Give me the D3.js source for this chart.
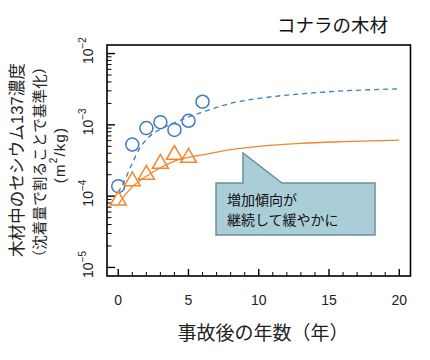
<!DOCTYPE html>
<html><head><meta charset="utf-8">
<script src="https://cdn.jsdelivr.net/npm/d3@7"></script>
<style>body{margin:0;background:#fff}svg{display:block}</style>
</head><body>
<script>
const years = [0, 1, 2, 3, 4, 5, 6];
const woodCircle = [1.38e-4, 5.3e-4, 9.0e-4, 1.09e-3, 8.5e-4, 1.14e-3, 2.11e-3];
const triYears = [0, 1, 2, 3, 4, 5];
const woodTriangle = [9.0e-5, 1.68e-4, 2.07e-4, 2.95e-4, 3.93e-4, 3.58e-4];
const blueFitYears = [0, 0.5, 1, 1.5, 2, 3, 4, 5, 6, 8, 10, 13, 16, 20];
const blueFit = [1.12e-4, 1.74e-4, 2.9e-4, 4.6e-4, 6.2e-4, 8.7e-4, 1.07e-3, 1.29e-3, 1.51e-3, 2.0e-3, 2.35e-3, 2.72e-3, 2.99e-3, 3.2e-3];
const orangeFitYears = [0, 0.5, 1, 2, 3, 4, 5, 6, 8, 10, 13, 16, 20];
const orangeFit = [7.6e-5, 1.05e-4, 1.35e-4, 1.9e-4, 2.5e-4, 3.1e-4, 3.5e-4, 3.8e-4, 4.5e-4, 5.0e-4, 5.5e-4, 5.8e-4, 6.1e-4];
const xTicks = [0, 5, 10, 15, 20];
const yTickExp = [-5, -4, -3, -2];
const title = "コナラの木材";
const xTitle = "事故後の年数（年）";
const yTitle1 = "木材中のセシウム137濃度";
const yTitle2 = "（沈着量で割ることで基準化）";
const calloutLines = ["増加傾向が", "継続して緩やかに"];

const W = 430, H = 360;
const L = 107, R = 410.5, T = 45, B = 276;
const font = "'Liberation Sans', Arial, 'Noto Sans CJK JP', sans-serif";
const blue = "#3b7cc0", orange = "#f5852a";

const svg = d3.select("body").append("svg").attr("width", W).attr("height", H)
  .style("font-family", font);

const x = d3.scaleLinear().domain([-0.8, 20.8]).range([L, R]);
const y = d3.scaleLog().domain([Math.pow(10, -5.12), Math.pow(10, -1.88)]).range([B, T]);

// plot box
svg.append("rect").attr("x", L).attr("y", T).attr("width", R - L).attr("height", B - T)
  .attr("fill", "none").attr("stroke", "#000").attr("stroke-width", 1.6);

// x ticks (inward)
const xMinor = d3.range(0, 21);
svg.append("g").selectAll("line").data(xMinor).join("line")
  .attr("x1", d => x(d)).attr("x2", d => x(d))
  .attr("y1", B).attr("y2", d => d % 5 === 0 ? B - 7 : B - 4)
  .attr("stroke", "#000").attr("stroke-width", d => d % 5 === 0 ? 1.4 : 1);
svg.append("g").selectAll("text").data(xTicks).join("text")
  .attr("x", d => x(d)).attr("y", 305).attr("text-anchor", "middle")
  .attr("font-size", 14).attr("fill", "#222").text(d => d);

// y ticks (inward)
const yMinor = [];
for (let e = -5; e <= -2; e++) {
  for (let m = 1; m <= 9; m++) {
    const v = m * Math.pow(10, e);
    if (v <= Math.pow(10, -2) + 1e-12) yMinor.push({v, major: m === 1});
  }
}
svg.append("g").selectAll("line").data(yMinor).join("line")
  .attr("y1", d => y(d.v)).attr("y2", d => y(d.v))
  .attr("x1", L).attr("x2", d => d.major ? L + 8 : L + 4.5)
  .attr("stroke", "#000").attr("stroke-width", d => d.major ? 1.4 : 1);
const yl = svg.append("g").selectAll("text").data(yTickExp).join("text")
  .attr("transform", d => `translate(92.5,${y(Math.pow(10, d)) - 3}) rotate(-90)`)
  .attr("text-anchor", "middle").attr("font-size", 14).attr("fill", "#222");
yl.append("tspan").text("10");
yl.append("tspan").attr("dy", -7).attr("font-size", 10).text(d => "−" + Math.abs(d));

// fitted curves
const line = d3.line().curve(d3.curveMonotoneX);
svg.append("path")
  .attr("d", line(blueFitYears.map((t, i) => [x(t), y(blueFit[i])])))
  .attr("fill", "none").attr("stroke", blue).attr("stroke-width", 1.3)
  .attr("stroke-dasharray", "5,4");
svg.append("path")
  .attr("d", line(orangeFitYears.map((t, i) => [x(t), y(orangeFit[i])])))
  .attr("fill", "none").attr("stroke", orange).attr("stroke-width", 1.3);

// circles
svg.append("g").selectAll("circle").data(years).join("circle")
  .attr("cx", d => x(d)).attr("cy", (d, i) => y(woodCircle[i])).attr("r", 6.5)
  .attr("fill", "none").attr("stroke", blue).attr("stroke-width", 1.5);

// triangles
const tri = d3.symbol().type(d3.symbolTriangle).size(110);
svg.append("g").selectAll("path").data(triYears).join("path")
  .attr("transform", (d, i) => `translate(${x(d)},${y(woodTriangle[i]) + 1})`)
  .attr("d", tri())
  .attr("fill", "none").attr("stroke", orange).attr("stroke-width", 1.5);

// callout
const bx0 = 216, bx1 = 375, by0 = 183, by1 = 235;
const px = 243, py = 153, pw = 39;
svg.append("path")
  .attr("d", `M${bx0},${by0} L${px},${by0} L${px},${py} L${px + pw},${by0} L${bx1},${by0} L${bx1},${by1} L${bx0},${by1} Z`)
  .attr("fill", "#a9ced8").attr("stroke", "#6f8f99").attr("stroke-width", 1.5);
svg.append("g").selectAll("text").data(calloutLines).join("text")
  .attr("x", 227).attr("y", (d, i) => 205 + i * 20)
  .attr("font-size", 14).attr("fill", "#111").text(d => d);

// title
svg.append("text").attr("x", 388).attr("y", 32).attr("text-anchor", "end")
  .attr("font-size", 18.5).attr("fill", "#111").text(title);

// x title
svg.append("text").attr("x", 263).attr("y", 340).attr("text-anchor", "middle")
  .attr("font-size", 19).attr("fill", "#222").text(xTitle);

// y title
svg.append("text").attr("transform", "translate(16.5,160) rotate(-90)")
  .attr("text-anchor", "middle").attr("dominant-baseline", "central")
  .attr("font-size", 16.5).attr("textLength", 194).attr("lengthAdjust", "spacing")
  .attr("fill", "#222").text(yTitle1);
svg.append("text").attr("transform", "translate(39.5,162) rotate(-90)")
  .attr("text-anchor", "middle").attr("dominant-baseline", "central")
  .attr("font-size", 14.5).attr("textLength", 205).attr("lengthAdjust", "spacing")
  .attr("fill", "#222").text(yTitle2);
const y3 = svg.append("text").attr("transform", "translate(59,155) rotate(-90)")
  .attr("text-anchor", "middle").attr("dominant-baseline", "central")
  .attr("font-size", 15).attr("letter-spacing", 1.2).attr("fill", "#222");
y3.append("tspan").text("(m");
y3.append("tspan").attr("dy", -6).attr("font-size", 10).text("2");
y3.append("tspan").attr("dy", 6).text("/kg)");
</script>
</body></html>
